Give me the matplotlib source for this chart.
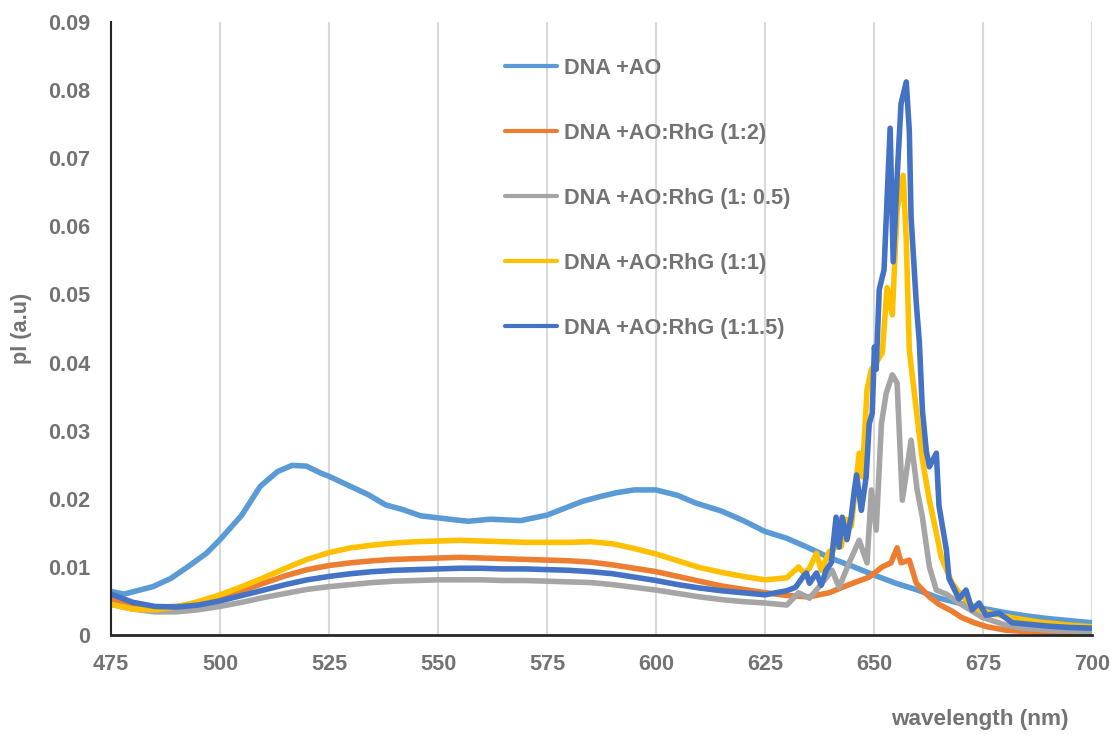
import matplotlib
matplotlib.use("Agg")
import matplotlib.pyplot as plt

# ---------------- data ----------------
wl_ao = [475, 478, 484.6, 488.7, 492.8, 496.9, 500, 505, 509.2, 513.2, 516.5, 519.8, 523, 525,
         530, 534, 538, 542, 546, 550, 554, 557, 562, 569, 575, 579, 583, 587, 591, 595, 600,
         605, 609, 615, 620, 625, 630, 635, 640, 645, 650, 655, 660, 665, 670, 675, 680, 685,
         690, 695, 700]
pl_ao = [0.0064, 0.0060, 0.0071, 0.0083, 0.0101, 0.0120, 0.0140, 0.0176, 0.0218, 0.0240, 0.0249,
         0.0248, 0.0238, 0.0233, 0.0218, 0.0206, 0.0191, 0.0184, 0.0175, 0.0172, 0.0169, 0.0167,
         0.0170, 0.0168, 0.0176, 0.0186, 0.0196, 0.0203, 0.0209, 0.0213, 0.0213, 0.0205, 0.0194,
         0.0182, 0.0168, 0.0152, 0.0142, 0.0128, 0.0113, 0.0101, 0.0088, 0.0076, 0.0066, 0.0054,
         0.0046, 0.0039, 0.0033, 0.0028, 0.0024, 0.0021, 0.0018]

wl_12 = [475, 480, 485, 490, 495, 500, 505, 510, 515, 520, 525, 530, 535, 540, 545, 550, 555,
         560, 565, 570, 575, 580, 585, 590, 595, 600, 605, 610, 615, 620, 625, 630, 635, 639.7,
         644.3, 648.9, 651.9, 653.9, 655.3, 656.2, 658.1, 659.7, 662.7, 664.9, 667.9, 670, 673,
         676, 680.3, 685, 690, 700]
pl_12 = [0.0052, 0.0045, 0.0041, 0.0042, 0.0047, 0.0055, 0.0065, 0.0076, 0.0087, 0.0096, 0.0102,
         0.0106, 0.0109, 0.0111, 0.0112, 0.0113, 0.0114, 0.0113, 0.0112, 0.0111, 0.0110, 0.0109,
         0.0107, 0.0103, 0.0098, 0.0093, 0.0086, 0.0079, 0.0072, 0.0067, 0.0062, 0.0058, 0.0056,
         0.0062, 0.0074, 0.0085, 0.0100, 0.0106, 0.0128, 0.0106, 0.0110, 0.0076, 0.0056, 0.0045,
         0.0035, 0.0026, 0.0018, 0.0012, 0.0007, 0.0005, 0.0004, 0.0003]

wl_05 = [475, 480, 485, 490, 495, 500, 505, 510, 515, 520, 525, 530, 535, 540, 545, 550, 555,
         560, 565, 570, 575, 580, 585, 590, 595, 600, 605, 610, 615, 620, 625, 630, 632.7, 635.2,
         638.1, 640.4, 642.0, 644.3, 646.6, 648.4, 649.4, 650.5, 651.7, 652.8, 654.2, 655.3,
         656.5, 658.5, 659.9, 661.1, 662.7, 664.3, 666.6, 669.5, 674.8, 680, 684.0, 690, 700]
pl_05 = [0.0045, 0.0038, 0.0034, 0.0034, 0.0037, 0.0042, 0.0048, 0.0055, 0.0061, 0.0067, 0.0071,
         0.0074, 0.0077, 0.0079, 0.0080, 0.0081, 0.0081, 0.0081, 0.0080, 0.0080, 0.0079, 0.0078,
         0.0077, 0.0074, 0.0070, 0.0066, 0.0061, 0.0056, 0.0052, 0.0049, 0.0047, 0.0044, 0.0062,
         0.0054, 0.0076, 0.0095, 0.0070, 0.0106, 0.0139, 0.0106, 0.0213, 0.0154, 0.0310, 0.0355,
         0.0382, 0.0370, 0.0198, 0.0286, 0.0213, 0.0173, 0.0100, 0.0066, 0.0060, 0.0047, 0.0026,
         0.0015, 0.0010, 0.0007, 0.0004]

wl_11 = [475, 480, 485, 490, 495, 500, 505, 510, 515, 520, 525, 530, 535, 540, 545, 550, 555,
         560, 565, 570, 575, 580, 585, 590, 595, 600, 605, 610, 615, 620, 625, 630, 632.7, 634.0,
         635.2, 636.8, 637.9, 639.7, 641.3, 642.5, 643.6, 644.8, 646.6, 647.3, 648.4, 649.4,
         650.5, 651.9, 653.0, 654.2, 655.3, 656.7, 657.4, 658.1, 659.9, 661.1, 662.7, 664.3,
         665.4, 667.9, 669.1, 672, 674.1, 678, 682, 687.9, 694, 700]
pl_11 = [0.0045, 0.0038, 0.0037, 0.0041, 0.0049, 0.0059, 0.0071, 0.0084, 0.0098, 0.0111, 0.0121,
         0.0128, 0.0132, 0.0135, 0.0137, 0.0138, 0.0139, 0.0138, 0.0137, 0.0136, 0.0136, 0.0136,
         0.0137, 0.0134, 0.0127, 0.0119, 0.0109, 0.0099, 0.0092, 0.0086, 0.0081, 0.0084, 0.0100,
         0.0090, 0.0098, 0.0120, 0.0095, 0.0122, 0.0129, 0.0130, 0.0170, 0.0160, 0.0267, 0.0232,
         0.0360, 0.0390, 0.0400, 0.0414, 0.0510, 0.0470, 0.0624, 0.0675, 0.0580, 0.0418, 0.0320,
         0.0257, 0.0198, 0.0150, 0.0115, 0.0076, 0.0066, 0.0045, 0.0037, 0.0030, 0.0025, 0.0019,
         0.0015, 0.0012]

wl_115 = [475, 480, 485, 490, 495, 500, 505, 510, 515, 520, 525, 530, 535, 540, 545, 550, 555,
          560, 565, 570, 575, 580, 585, 590, 595, 600, 605, 610, 615, 620, 625, 630, 632, 634,
          634.5, 635.2, 636.8, 637.9, 639.0, 640.2, 641.3, 642.0, 642.7, 643.8, 644.8, 645.5,
          646.0, 647.1, 648.2, 648.9, 649.6, 650.1, 650.5, 651.2, 652.3, 653.7, 654.4, 655.3,
          656.2, 657.4, 658.1, 658.5, 659.7, 660.4, 661.1, 662.0, 662.7, 664.3, 664.9, 666.6,
          667.2, 669.5, 671.1, 672.5, 674.1, 675.7, 678.7, 681.7, 685, 690, 695, 700]
pl_115 = [0.0060, 0.0048, 0.0042, 0.0041, 0.0044, 0.0050, 0.0058, 0.0066, 0.0074, 0.0081, 0.0086,
          0.0090, 0.0093, 0.0095, 0.0096, 0.0097, 0.0098, 0.0098, 0.0097, 0.0097, 0.0096, 0.0095,
          0.0093, 0.0090, 0.0085, 0.0080, 0.0074, 0.0069, 0.0065, 0.0062, 0.0059, 0.0065, 0.0070,
          0.0088, 0.0091, 0.0076, 0.0091, 0.0073, 0.0095, 0.0106, 0.0173, 0.0129, 0.0173, 0.0140,
          0.0175, 0.0213, 0.0235, 0.0183, 0.0232, 0.0310, 0.0326, 0.0423, 0.0390, 0.0507, 0.0536,
          0.0744, 0.0548, 0.0672, 0.0780, 0.0812, 0.0740, 0.0614, 0.0487, 0.0430, 0.0330, 0.0270,
          0.0247, 0.0267, 0.0190, 0.0125, 0.0083, 0.0053, 0.0066, 0.0037, 0.0047, 0.0029, 0.0032,
          0.0018, 0.0016, 0.0013, 0.0011, 0.0010]

labels = ["DNA +AO", "DNA +AO:RhG (1:2)", "DNA +AO:RhG (1: 0.5)",
          "DNA +AO:RhG (1:1)", "DNA +AO:RhG (1:1.5)"]
colors = ["#5B9BD5", "#ED7D31", "#A5A5A5", "#FFC000", "#4472C4"]
xticks = [475, 500, 525, 550, 575, 600, 625, 650, 675, 700]
yticks = [0, 0.01, 0.02, 0.03, 0.04, 0.05, 0.06, 0.07, 0.08, 0.09]
ytick_labels = ["0", "0.01", "0.02", "0.03", "0.04", "0.05", "0.06", "0.07", "0.08", "0.09"]

# ---------------- figure ----------------
plt.rcParams['font.family'] = ['Liberation Sans', 'DejaVu Sans']
TXT = "#737373"
FS = 15.6

fig = plt.figure(figsize=(11.16, 7.36), dpi=100)
W, H = 1116, 736
left, right, bottom, top = 111, 1092, 635, 22
ax = fig.add_axes([left / W, 1 - bottom / H, (right - left) / W, (bottom - top) / H])

series = [(wl_ao, pl_ao), (wl_12, pl_12), (wl_05, pl_05), (wl_11, pl_11), (wl_115, pl_115)]
lines = []
for (x, y), c, lab in zip(series, colors, labels):
    ln, = ax.plot(x, y, color=c, lw=4.0, solid_joinstyle='round', solid_capstyle='round',
                  label=lab, zorder=3)
    lines.append(ln)

ax.set_xlim(475, 700)
ax.set_ylim(0, 0.09)
ax.set_xticks(xticks)
ax.set_yticks(yticks)
ax.set_yticklabels(ytick_labels)
ax.grid(axis='x', color='#D9D9D9', lw=1.5, zorder=0)
ax.grid(axis='y', visible=False)
ax.tick_params(axis='both', length=0, labelsize=FS, labelcolor=TXT)
ax.tick_params(axis='y', pad=15)
ax.tick_params(axis='x', pad=14)
for lab in ax.get_xticklabels() + ax.get_yticklabels():
    lab.set_fontweight('bold')
for s in ['top', 'right']:
    ax.spines[s].set_visible(False)
ax.spines['left'].set_color('#262626')
ax.spines['bottom'].set_color('#262626')
ax.spines['left'].set_linewidth(1.5)
ax.spines['bottom'].set_linewidth(2.0)
ax.spines['left'].set_zorder(4)
ax.spines['bottom'].set_zorder(4)

leg = ax.legend(handles=lines, loc='upper left',
                bbox_to_anchor=((505 - left) / (right - left), 1 - (58 - top) / (bottom - top)),
                frameon=False, handlelength=2.4, handletextpad=0.3, labelspacing=2.03,
                borderaxespad=0, borderpad=0,
                prop={'size': FS, 'weight': 'bold'})
for t in leg.get_texts():
    t.set_color(TXT)
for h in leg.legend_handles:
    h.set_linewidth(3.0)

fig.text(980 / W, 1 - 720 / H, "wavelength (nm)", ha='center', va='center',
         fontsize=FS + 0.6, fontweight='bold', color=TXT)
fig.text(22 / W, 1 - 328 / H, "pl (a.u)", ha='center', va='center', rotation=90,
         fontsize=FS, fontweight='bold', color=TXT)

fig.savefig("out.png", dpi=100)
